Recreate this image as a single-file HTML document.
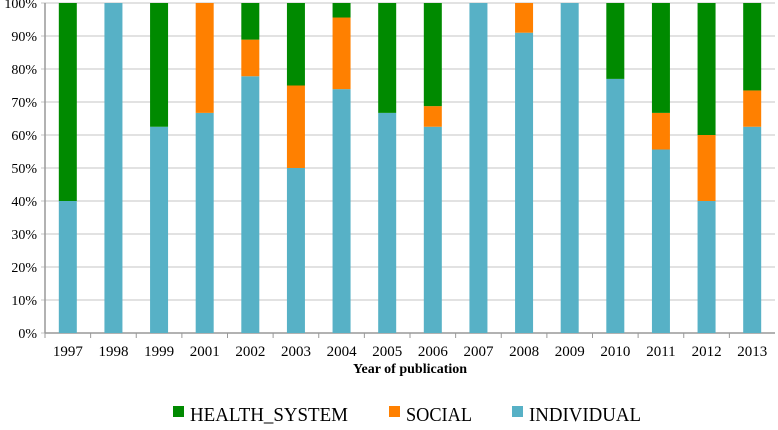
<!DOCTYPE html>
<html><head><meta charset="utf-8"><style>
body{margin:0;background:#fff;}
svg text{font-family:"Liberation Serif",serif;fill:#000;}
</style></head><body>
<svg id="chart" width="778" height="425"></svg>
<script>
const categories=["1997","1998","1999","2001","2002","2003","2004","2005","2006","2007","2008","2009","2010","2011","2012","2013"];
const individual=[40,100,62.5,66.7,77.8,50,73.9,66.7,62.5,100,91,100,77,55.6,40,62.5];
const social=[0,0,0,33.3,11.1,25,21.7,0,6.25,0,9,0,0,11.1,20,11];
const healthSystem=[60,0,37.5,0,11.1,25,4.4,33.3,31.25,0,0,0,23,33.3,40,26.5];
const yTicks=[0,10,20,30,40,50,60,70,80,90,100];
const NS="http://www.w3.org/2000/svg";
const svg=document.getElementById("chart");
const L=45,R=775,T=3,B=333;
const step=(R-L)/categories.length, bw=18;
function y(v){return B-(B-T)*v/100;}
function xc(i){return L+step*(i+0.5);}
function el(t,a){const e=document.createElementNS(NS,t);for(const k in a)e.setAttribute(k,a[k]);svg.appendChild(e);return e;}
yTicks.forEach(v=>{
 const g=el("line",{x1:L-4,x2:R,y1:y(v),y2:y(v),stroke:"#c4c4c4","stroke-width":1});
 
 
 const t=el("text",{x:L-8,y:y(v)+5,"text-anchor":"end","font-size":14});
 t.textContent=v+"%";
 
 
});
const ax=el("line",{x1:L,x2:R,y1:B,y2:B,stroke:"#999","stroke-width":1.5});


const ay=el("line",{x1:L,x2:L,y1:T,y2:B,stroke:"#999","stroke-width":1.5});


categories.forEach((c,i)=>{
 const tk=el("line",{x1:L+step*i,x2:L+step*i,y1:B,y2:B+5,stroke:"#999"});
 
 
 let base=0;
 [[individual[i],"#57b1c6","individual"],[social[i],"#ff8000","social"],[healthSystem[i],"#008a00","health-system"]].forEach(([v,col,n])=>{
  if(v>0){
   const r=el("rect",{x:xc(i)-bw/2,y:y(base+v),width:bw,height:y(base)-y(base+v),fill:col});
   
   
  }
  base+=v;
 });
 const t=el("text",{x:xc(i),y:B+23,"text-anchor":"middle","font-size":15});
 t.textContent=c;
 
 
});
const xt=el("text",{x:(L+R)/2,y:B+40,"text-anchor":"middle","font-size":14,"font-weight":"bold"});
xt.textContent="Year of publication";


[["HEALTH_SYSTEM","#008a00",173,190,158],["SOCIAL","#ff8000",389,406,66],["INDIVIDUAL","#57b1c6",512,529,112]].forEach(([n,col,x,tx,w])=>{
 const r=el("rect",{x:x,y:406,width:11,height:11,fill:col});
 
 
 const t=el("text",{x:tx,y:421,"font-size":20,textLength:w,lengthAdjust:"spacingAndGlyphs"});
 t.textContent=n;
 
 
});
</script>
</body></html>
